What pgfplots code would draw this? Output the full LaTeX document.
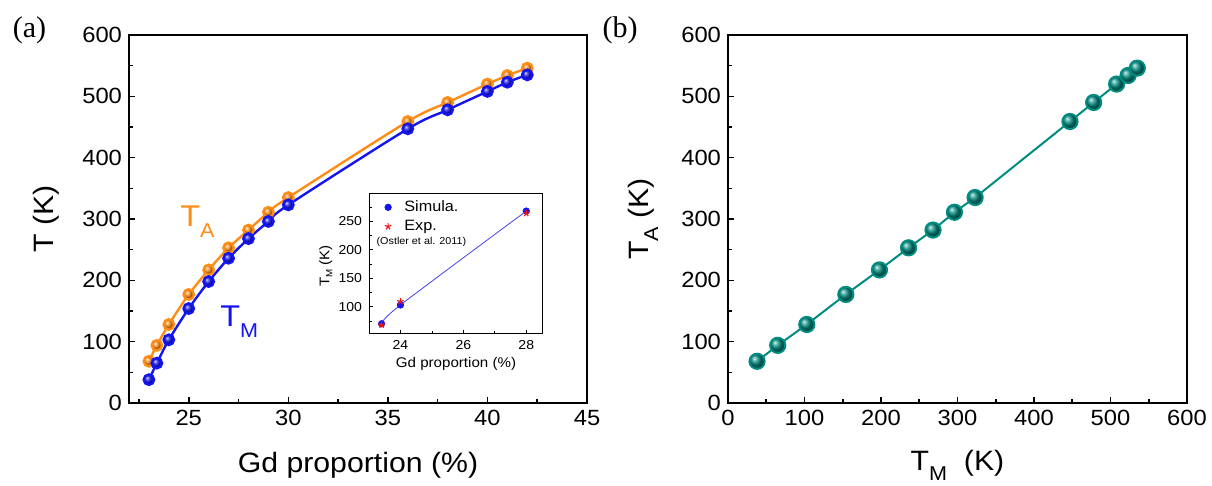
\documentclass[border=0pt]{standalone}
\usepackage{fontspec}
\setmainfont{Liberation Sans}[FakeStretch=1.08]
\newfontfamily\serif{Liberation Serif}
\usepackage{pgfplots}
\usepackage{pgfplotstable}
\pgfplotsset{compat=1.18}
\definecolor{cOr}{RGB}{255,140,20}
\definecolor{cBl}{RGB}{20,20,240}
\definecolor{cTe}{RGB}{0,140,128}
\definecolor{cRe}{RGB}{240,20,20}

\pgfplotstableread{
x TA TM
23 68 38
23.4 94 65
24 128 103
25 177 154
26 217 198
27 253 236
28 282 268
29 311 296
30 335 323
36 459 447
38 490 478
40 520 508
41 534 523
42 546 535
}\dataA

\pgfplotstableread{
x sim
23.4 70
24 103
28 268
}\simdata

\pgfplotstableread{
x exp
23.4 68
24 109
28 264
}\expdata

\pgfplotsset{myax/.style={
  scale only axis,
  axis line style={line width=1pt},
  tick align=inside, tick pos=left,
  major tick length=3pt, minor tick length=2.2pt,
  every tick/.append style={black, line width=0.8pt},
  /pgf/number format/assume math mode=true,
  tick label style={font=\fontsize{11}{12}\selectfont},
  label style={font=\fontsize{14}{16}\selectfont},
}}

\begin{document}
\begin{tikzpicture}
\useasboundingbox (0,0) rectangle (606pt,243pt);

% ---------- panel (a)
\begin{axis}[myax,
  at={(64.5pt,41.5pt)}, anchor=south west,
  width=229pt, height=184pt,
  xmin=22, xmax=45, ymin=0, ymax=600,
  xtick={25,30,35,40,45},
  minor xtick={22.5,27.5,32.5,37.5,42.5},
  ytick={0,100,...,600},
  minor ytick={50,150,...,550},
  xlabel={Gd proportion (\%)},
  ylabel={T (K)},
  xlabel style={at={(axis description cs:0.5,-0.168)}, anchor=center},
  ylabel style={at={(axis description cs:-0.181,0.5)}, anchor=center},
]
\addplot[cOr, line width=1.2pt, smooth, tension=0.5, mark=ball, mark size=2.6pt, mark options={ball color=cOr}] table[x=x,y=TA] {\dataA};
\addplot[cBl, line width=1.2pt, smooth, tension=0.5, mark=ball, mark size=2.6pt, mark options={ball color=cBl}] table[x=x,y=TM] {\dataA};
\node[anchor=base west, text=cOr, font=\fontsize{15}{16}\selectfont, inner sep=0pt] at (axis cs:24.56,287) {T\raisebox{-5.5pt}{\fontsize{10}{10}\selectfont A}};
\node[anchor=base west, text=cBl, font=\fontsize{15}{16}\selectfont, inner sep=0pt] at (axis cs:26.57,124) {T\raisebox{-5.5pt}{\fontsize{10}{10}\selectfont M}};
\end{axis}

% ---------- inset
\begin{axis}[
  scale only axis,
  at={(184.5pt,76pt)}, anchor=south west,
  width=86.5pt, height=70pt,
  axis background/.style={fill=white},
  axis line style={line width=0.5pt},
  tick align=inside, tick pos=left,
  major tick length=2pt, minor tick length=1.5pt,
  every tick/.append style={black, line width=0.4pt},
  /pgf/number format/assume math mode=true,
  tick label style={font=\fontsize{6.5}{7}\selectfont},
  label style={font=\fontsize{7}{8}\selectfont},
  xmin=23, xmax=28.5, ymin=52, ymax=298,
  xtick={24,26,28}, minor xtick={25,27},
  ytick={100,150,200,250}, minor ytick={75,125,175,225,275},
  xticklabel style={yshift=0.5pt},
  xlabel={Gd proportion (\%)},
  ylabel={T\raisebox{-1.5pt}{\fontsize{4.5}{5}\selectfont M} (K)},
  xlabel style={at={(axis description cs:0.503,-0.21)}, anchor=center},
  ylabel style={at={(axis description cs:-0.25,0.486)}, anchor=center},
  legend style={at={(axis description cs:0.078,1.0)}, anchor=north west, draw=none, fill=none,
    font=\fontsize{7.5}{8}\selectfont, row sep=-1.2pt, inner sep=1pt},
  legend image code/.code={\draw[#1] plot coordinates {(0.22cm,0cm)};},
  legend cell align=left,
]
\addplot[cBl!80, line width=0.4pt, smooth, forget plot] table[x=x,y=sim] {\simdata};
\addplot[only marks, mark=*, mark size=1.6pt, cBl] table[x=x,y=sim] {\simdata};
\addlegendentry{\hspace{4.5pt}Simula.}
\addplot[only marks, mark=star, mark size=1.7pt, cRe, line width=0.6pt] table[x=x,y=exp] {\expdata};
\addlegendentry{\hspace{4.5pt}Exp.}
\node[font=\fontsize{5}{6}\selectfont, anchor=center] at (axis description cs:0.303,0.655) {(Ostler et al. 2011)};
\end{axis}

% ---------- panel (b)
\begin{axis}[myax,
  at={(364pt,41.5pt)}, anchor=south west,
  width=229.5pt, height=184pt,
  xmin=0, xmax=600, ymin=0, ymax=600,
  xtick={0,100,...,600},
  minor xtick={50,150,...,550},
  ytick={0,100,...,600},
  minor ytick={50,150,...,550},
  xlabel={T\raisebox{-5pt}{\fontsize{10}{10}\selectfont M}\ \ (K)},
  ylabel={T\raisebox{-5pt}{\fontsize{10}{10}\selectfont A} (K)},
  xlabel style={at={(axis description cs:0.5,-0.17)}, anchor=center},
  ylabel style={at={(axis description cs:-0.185,0.5)}, anchor=center},
]
\addplot[cTe, line width=1pt, mark=ball, mark size=3.8pt, mark options={ball color=cTe}] table[x=TM,y=TA] {\dataA};
\end{axis}

\node[font=\serif\fontsize{15}{16}\selectfont] at (14.75pt,228pt) {(a)};
\node[font=\serif\fontsize{15}{16}\selectfont] at (310pt,228pt) {(b)};
\end{tikzpicture}
\end{document}
